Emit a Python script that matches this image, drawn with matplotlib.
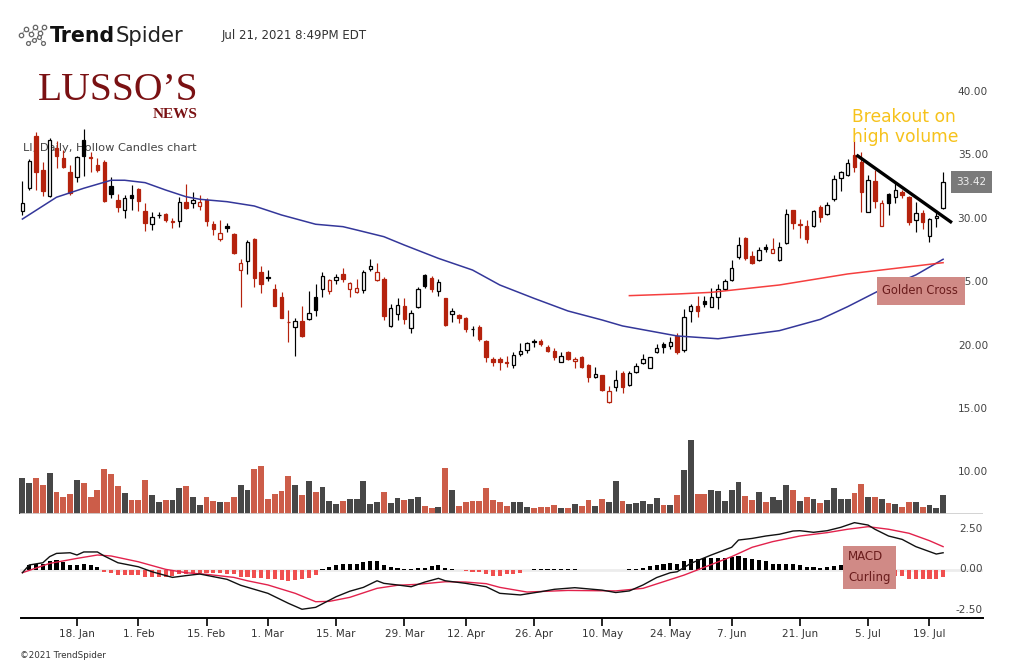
import numpy as np
import pandas as pd
import matplotlib
matplotlib.use("Agg")
import matplotlib.pyplot as plt
from matplotlib.patches import Rectangle
from matplotlib.lines import Line2D
from matplotlib.transforms import blended_transform_factory, ScaledTranslation

# ---------------- data ----------------
holidays = ["2021-01-18", "2021-02-15", "2021-04-02", "2021-05-31", "2021-07-05"]
dates = pd.bdate_range("2021-01-06", "2021-07-21")
dates = dates[~dates.isin(pd.to_datetime(holidays))]

opens = [31.14, 32.90, 37.05, 34.35, 32.32, 36.06, 35.27, 34.21, 33.82, 36.71,
         35.40, 34.74, 35.00, 33.09, 31.98, 31.19, 32.38, 32.85, 31.12, 30.09,
         30.78, 30.85, 30.26, 30.33, 31.80, 31.72, 31.54, 31.98, 30.07, 28.89,
         29.93, 29.28, 26.46, 27.17, 28.91, 26.28, 25.90, 24.96, 24.31, 22.38,
         22.00, 22.44, 22.57, 24.31, 24.94, 24.83, 25.67, 26.15, 24.94, 24.75,
         24.88, 26.54, 25.67, 25.75, 22.05, 22.97, 23.62, 21.86, 23.52, 26.07,
         25.81, 24.83, 24.23, 22.97, 22.91, 22.70, 21.83, 21.94, 20.86, 19.44,
         19.42, 19.20, 18.97, 19.81, 20.15, 20.84, 20.86, 20.36, 20.10, 19.23,
         20.02, 19.32, 19.58, 18.97, 18.05, 18.18, 16.08, 17.21, 18.31, 17.39,
         18.39, 19.10, 18.71, 19.97, 20.60, 20.49, 21.26, 20.15, 23.23, 23.62,
         24.02, 23.57, 24.31, 24.96, 25.67, 27.46, 28.96, 27.57, 27.25, 28.30,
         27.80, 27.25, 28.57, 31.19, 30.05, 29.93, 29.93, 31.46, 30.88, 32.04,
         33.74, 33.95, 35.53, 35.00, 31.01, 33.48, 29.96, 32.43, 32.25, 32.64,
         32.25, 30.41, 30.93, 29.14, 30.59, 31.33]
highs = [33.48, 35.20, 37.32, 35.00, 36.85, 36.66, 35.93, 34.74, 35.45, 37.56,
         35.80, 35.27, 35.10, 33.77, 32.43, 32.38, 33.17, 32.95, 31.72, 31.01,
         31.01, 30.93, 30.54, 32.25, 33.22, 32.59, 32.38, 32.12, 30.33, 30.41,
         30.15, 29.36, 27.33, 28.83, 28.96, 26.78, 26.46, 25.36, 24.70, 23.31,
         22.66, 23.62, 24.80, 25.34, 26.28, 25.75, 26.15, 26.60, 25.50, 25.75,
         26.46, 27.33, 26.99, 25.88, 23.78, 24.23, 24.23, 23.31, 25.10, 26.15,
         25.99, 25.75, 24.23, 23.44, 22.99, 22.78, 22.05, 22.12, 20.94, 19.58,
         19.58, 19.68, 20.02, 20.71, 20.80, 20.99, 20.99, 20.55, 20.29, 20.02,
         20.10, 19.63, 19.68, 19.05, 18.84, 18.18, 17.31, 18.58, 18.50, 18.50,
         19.10, 19.84, 19.60, 20.60, 20.80, 21.15, 21.47, 23.36, 23.78, 24.41,
         24.44, 25.02, 25.36, 25.73, 27.25, 29.04, 29.09, 27.96, 28.30, 28.51,
         28.96, 28.69, 31.27, 31.19, 30.46, 30.41, 31.19, 31.59, 31.85, 33.95,
         34.30, 35.22, 36.64, 35.79, 33.95, 34.35, 31.98, 32.51, 33.30, 32.77,
         32.30, 31.85, 31.19, 30.54, 31.19, 34.17]
lows = [30.80, 32.80, 32.77, 32.30, 32.25, 34.48, 34.48, 32.38, 33.38, 33.90,
        34.21, 34.21, 31.81, 32.12, 31.07, 30.59, 31.19, 31.12, 29.54, 29.60,
        30.54, 30.28, 29.75, 29.88, 31.25, 31.38, 31.19, 29.96, 29.22, 28.75,
        29.49, 27.72, 23.57, 26.12, 25.15, 24.63, 25.59, 23.62, 22.66, 20.81,
        19.71, 21.20, 22.52, 22.86, 24.36, 24.57, 25.36, 25.54, 24.36, 24.67,
        24.63, 26.41, 25.62, 22.52, 22.00, 22.52, 22.20, 21.52, 23.44, 25.02,
        24.75, 24.44, 22.08, 22.39, 22.31, 21.60, 21.26, 20.89, 19.23, 18.92,
        18.58, 18.84, 18.76, 19.68, 19.94, 20.36, 20.50, 20.02, 19.36, 19.18,
        19.36, 18.76, 18.71, 17.65, 17.97, 16.94, 16.00, 16.94, 16.79, 17.34,
        18.31, 19.02, 18.70, 19.89, 19.89, 20.21, 19.81, 19.97, 22.34, 22.78,
        23.57, 23.52, 23.39, 24.88, 25.62, 27.33, 27.25, 26.91, 27.20, 27.86,
        27.78, 27.20, 28.49, 29.70, 29.01, 28.57, 29.88, 30.28, 30.80, 31.93,
        32.69, 33.90, 34.21, 31.01, 31.01, 31.33, 29.93, 30.80, 31.77, 32.12,
        30.01, 29.49, 29.67, 28.69, 29.88, 31.25]
closes = [31.72, 35.06, 34.21, 32.72, 36.71, 35.48, 34.61, 32.56, 35.35, 35.48,
          35.27, 34.35, 31.90, 32.43, 31.45, 32.12, 32.17, 31.90, 30.15, 30.67,
          30.82, 30.41, 30.30, 31.80, 31.33, 31.98, 31.80, 30.36, 29.67, 29.36,
          29.75, 27.78, 26.99, 28.65, 25.81, 25.33, 25.83, 23.65, 22.70, 22.34,
          22.44, 21.28, 23.05, 23.31, 25.99, 25.67, 25.88, 25.75, 25.42, 25.02,
          26.28, 26.78, 26.33, 22.86, 23.44, 23.70, 22.57, 23.05, 24.94, 25.20,
          24.94, 25.50, 22.12, 23.23, 22.70, 21.78, 21.80, 21.02, 19.63, 19.23,
          19.20, 19.16, 19.79, 20.07, 20.68, 20.76, 20.60, 20.10, 19.58, 19.71,
          19.45, 19.42, 18.79, 18.00, 18.24, 17.00, 16.90, 17.79, 17.21, 18.31,
          18.89, 19.44, 19.58, 20.29, 20.41, 20.76, 19.97, 22.78, 23.62, 23.25,
          23.76, 24.31, 24.94, 25.59, 26.65, 28.43, 27.38, 26.99, 28.04, 28.12,
          28.08, 28.30, 30.88, 30.15, 30.10, 28.91, 31.12, 30.62, 31.59, 33.61,
          34.17, 34.88, 34.61, 32.59, 33.56, 31.90, 31.72, 31.77, 32.77, 32.38,
          30.23, 30.93, 30.23, 30.46, 30.75, 33.42]
volume = [8.57, 7.37, 8.57, 6.82, 9.76, 5.22, 4.02, 4.74, 8.01, 7.37,
          4.02, 5.70, 10.72, 9.52, 6.65, 4.98, 3.30, 3.30, 8.09, 4.50,
          2.82, 3.30, 3.30, 6.17, 6.65, 4.02, 2.11, 4.02, 3.06, 2.82,
          2.82, 4.02, 6.89, 5.70, 10.72, 11.44, 3.54, 4.74, 5.46, 9.04,
          6.89, 4.50, 7.85, 5.22, 6.41, 3.06, 2.35, 3.06, 3.54, 3.54,
          7.85, 2.35, 2.82, 5.22, 2.58, 3.78, 3.30, 3.54, 4.02, 1.87,
          1.39, 1.63, 10.96, 5.70, 1.87, 2.82, 3.06, 3.06, 6.17, 3.30,
          2.82, 1.79, 2.82, 2.82, 1.56, 1.39, 1.56, 1.56, 2.03, 1.32,
          1.32, 2.27, 1.79, 3.23, 1.79, 3.47, 2.75, 7.78, 2.99, 2.27,
          2.51, 2.99, 2.27, 3.71, 2.03, 2.03, 4.43, 10.41, 17.58, 4.67,
          4.67, 5.62, 5.38, 2.99, 5.62, 7.54, 4.19, 3.23, 5.14, 2.75,
          3.95, 3.23, 6.82, 5.62, 2.99, 3.95, 3.47, 2.51, 3.23, 6.10,
          3.47, 3.47, 4.90, 7.06, 3.95, 3.95, 3.47, 2.51, 2.27, 1.56,
          2.75, 2.75, 1.56, 2.03, 1.32, 4.43]
macd_hist = [0.00, 0.27, 0.37, 0.37, 0.52, 0.58, 0.48, 0.27, 0.27, 0.33,
             0.27, 0.17, -0.14, -0.21, -0.35, -0.35, -0.35, -0.35, -0.46, -0.46,
             -0.46, -0.46, -0.39, -0.29, -0.25, -0.21, -0.19, -0.19, -0.21, -0.21,
             -0.25, -0.29, -0.46, -0.46, -0.50, -0.50, -0.56, -0.56, -0.66, -0.70,
             -0.66, -0.62, -0.50, -0.35, 0.02, 0.17, 0.27, 0.37, 0.37, 0.37,
             0.46, 0.52, 0.52, 0.27, 0.17, 0.10, 0.03, 0.03, 0.10, 0.12,
             0.21, 0.27, 0.10, 0.06, 0.00, -0.08, -0.14, -0.14, -0.29, -0.39,
             -0.39, -0.29, -0.25, -0.21, -0.06, 0.05, 0.05, 0.05, 0.05, 0.05,
             0.05, 0.05, 0.00, 0.00, 0.00, -0.04, -0.06, -0.06, -0.04, 0.03,
             0.05, 0.08, 0.21, 0.27, 0.37, 0.41, 0.37, 0.52, 0.64, 0.68,
             0.72, 0.72, 0.72, 0.72, 0.75, 0.83, 0.72, 0.68, 0.62, 0.52,
             0.37, 0.33, 0.37, 0.33, 0.27, 0.17, 0.17, 0.10, 0.17, 0.21,
             0.25, 0.25, 0.30, 0.20, 0.05, -0.15, -0.30, -0.40, -0.39, -0.41,
             -0.56, -0.62, -0.62, -0.62, -0.62, -0.46]

# moving averages, sampled along the drawn lines (trading-day index, value)
sma50_idx = [0, 5, 9, 13, 15, 18, 21, 24, 26, 30, 34, 38, 43, 47, 49, 53, 56, 61,
             66, 70, 75, 80, 85, 88, 96, 102, 111, 117, 121, 126, 131, 135]
sma50_val = [30.48, 32.20, 32.91, 33.54, 33.54, 33.35, 32.77, 32.24, 32.04, 31.85,
             31.51, 30.80, 30.07, 29.88, 29.62, 29.09, 28.43, 27.38, 26.46, 25.28,
             24.23, 23.23, 22.52, 22.05, 21.26, 21.04, 21.68, 22.57, 23.57, 24.94,
             26.07, 27.31]
sma200_idx = [89, 96, 101, 111, 121, 131, 135]
sma200_val = [24.44, 24.57, 24.70, 25.28, 26.15, 26.78, 27.04]

macd_idx = [0, 1, 3, 4, 5, 7, 8, 9, 11, 12, 14, 17, 19, 22, 24, 26, 30, 32, 36, 39,
            41, 43, 46, 48, 50, 52, 53, 55, 57, 59, 61, 62, 65, 68, 70, 73, 76, 78,
            81, 85, 87, 89, 91, 93, 95, 96, 98, 101, 104, 105, 107, 109, 111, 113,
            114, 116, 118, 120, 122, 124, 125, 127, 129, 131, 134, 135]
macd_val = [-0.20, 0.28, 0.42, 0.80, 1.00, 1.04, 0.90, 1.09, 1.09, 0.84,
            0.42, 0.17, -0.14, -0.49, -0.38, -0.28, -0.61, -0.98, -1.48, -2.10,
            -2.47, -2.35, -1.69, -1.35, -1.11, -0.70, -0.86, -0.96, -1.07, -0.78,
            -0.55, -0.70, -0.86, -1.07, -1.48, -1.58, -1.38, -1.23, -1.13, -1.28,
            -1.43, -1.33, -0.96, -0.50, -0.20, -0.14, 0.38, 0.90, 1.38, 1.83,
            1.93, 2.08, 2.19, 2.39, 2.41, 2.31, 2.41, 2.62, 2.91, 2.76,
            2.50, 2.08, 1.87, 1.42, 0.96, 1.04]
signal_idx = [0, 4, 8, 11, 13, 17, 21, 24, 27, 31, 33, 36, 40, 43, 45, 48, 52, 55,
              58, 62, 65, 68, 70, 74, 80, 87, 91, 94, 97, 100, 104, 107, 110, 114,
              118, 121, 124, 127, 130, 133, 135]
signal_val = [-0.20, 0.38, 0.69, 0.90, 0.84, 0.48, 0.01, -0.20, -0.30, -0.49,
              -0.70, -0.96, -1.48, -2.00, -1.98, -1.73, -1.17, -0.98, -0.92, -0.76,
              -0.78, -0.88, -1.11, -1.40, -1.30, -1.33, -1.17, -0.76, -0.35, 0.14,
              0.80, 1.38, 1.73, 2.08, 2.29, 2.50, 2.66, 2.50, 2.25, 1.79, 1.42]

# drawn trendline (index, price)
trend_idx = [122.3, 136.3]
trend_val = [35.53, 30.19]

tick_dates = ["2021-01-18", "2021-02-01", "2021-02-15", "2021-03-01", "2021-03-15",
              "2021-03-29", "2021-04-12", "2021-04-26", "2021-05-10", "2021-05-24",
              "2021-06-07", "2021-06-21", "2021-07-05", "2021-07-19"]
tick_labels = ["18. Jan", "1. Feb", "15. Feb", "1. Mar", "15. Mar", "29. Mar",
               "12. Apr", "26. Apr", "10. May", "24. May", "7. Jun", "21. Jun",
               "5. Jul", "19. Jul"]
price_ticks = [15, 20, 25, 30, 35, 40]
volume_ticks = [10]
macd_ticks = [2.5, 0.0, -2.5]

# ---------------- styling ----------------
RED_C = "#b5220d"
VOL_DARK = "#474747"
VOL_RED = "#cc5d49"
HIST_RED = "#f04f4f"
BLUE = "#34379a"
SMA_RED = "#f42a2a"
SIG_RED = "#e2224c"
LOGO_RED = "#7a1113"

plt.rcParams["font.family"] = ["DejaVu Sans"]
W, H = 1013, 665
fig = plt.figure(figsize=(W / 100, H / 100), dpi=100)
fig.patch.set_facecolor("white")

def fx(px):
    return px / W

def fy(py):
    return 1 - py / H

X_LEFT, X_RIGHT = 15, 983
PX_DAY, X0 = 6.82, 22.4
xlim = ((X_LEFT - X0) / PX_DAY, (X_RIGHT - X0) / PX_DAY)

def make_axes(top, bottom, ylim):
    ax = fig.add_axes([fx(X_LEFT), fy(bottom), (X_RIGHT - X_LEFT) / W, (bottom - top) / H])
    ax.set_xlim(xlim)
    ax.set_ylim(ylim)
    ax.set_facecolor("none")
    for s in ax.spines.values():
        s.set_visible(False)
    ax.set_xticks([])
    ax.set_yticks([])
    return ax

ax_p = make_axes(70, 425, (40.5 - 333 / 12.68, 40.5 + 22 / 12.68))
ax_v = make_axes(435, 514, (-0.5 / 4.18, 78.5 / 4.18))
ax_m = make_axes(516, 618, (-48.5 / 16.1, 53.5 / 16.1))

x = np.arange(len(dates))
O = np.array(opens); Hh = np.array(highs); L = np.array(lows); C = np.array(closes)
prevC = np.r_[-np.inf, C[:-1]]
edge = np.where(C >= prevC, "#000000", RED_C)
face = np.where(C >= O, "#ffffff", edge)
last_close_label = f"{C[-1]:.2f}"

# ---- price panel ----
ax_p.vlines(x, L, Hh, colors=edge, linewidth=0.85, zorder=2)
ax_p.bar(x, np.abs(C - O), bottom=np.minimum(O, C), width=0.5, color=face,
         edgecolor=edge, linewidth=0.9, zorder=2.5)
ax_p.plot(sma50_idx, sma50_val, color=BLUE, lw=1.1, zorder=3)
ax_p.plot(sma200_idx, sma200_val, color=SMA_RED, lw=1.1, alpha=0.9, zorder=3)
ax_p.plot(trend_idx, trend_val, color="black", lw=2.4, solid_capstyle="butt", zorder=4)

# price labels sit slightly above their levels, as in TrendSpider
tp = blended_transform_factory(fig.transFigure, ax_p.transData) + \
    ScaledTranslation(0, 6.3 / 100, fig.dpi_scale_trans)
for v in price_ticks:
    ax_p.text(fx(988), v, f"{v:.2f}", transform=tp, ha="right", va="center",
              fontsize=7.6, color="#444444")

tl = blended_transform_factory(fig.transFigure, ax_p.transData)
ax_p.text(fx(971.5), C[-1], last_close_label, transform=tl,
          ha="center", va="center", fontsize=7.6, color="#eeeeee", zorder=6,
          bbox=dict(boxstyle="square,pad=0.55", facecolor="#7a7a7a", edgecolor="none"))

ax_p.text(fx(23), fy(148), "LI, Daily, Hollow Candles chart", transform=fig.transFigure,
          fontsize=8.2, color="#444444", va="center", ha="left", zorder=1)

# annotations on price panel
ax_p.text(fx(852), fy(122.5), "Breakout on", transform=fig.transFigure, fontsize=12.3,
          color="#f6c21b", ha="left", va="baseline", zorder=6)
ax_p.text(fx(852), fy(142.5), "high volume", transform=fig.transFigure, fontsize=12.3,
          color="#f6c21b", ha="left", va="baseline", zorder=6)
ax_p.add_patch(Rectangle((fx(877), fy(305)), fx(88), 28 / H, transform=fig.transFigure,
                         facecolor="#d08a86", edgecolor="none", zorder=5))
ax_p.text(fx(882), fy(291), "Golden Cross", transform=fig.transFigure, fontsize=8.3,
          color="#6a1c1c", ha="left", va="center", zorder=6)

# ---- volume panel ----
vcol = np.where(C >= O, VOL_DARK, VOL_RED)
ax_v.bar(x, volume, width=0.86, color=vcol, zorder=2)
ax_v.axhline(0, xmin=(21 - X_LEFT) / (X_RIGHT - X_LEFT), color="#cfcfcf", lw=2, zorder=3)
tv = blended_transform_factory(fig.transFigure, ax_v.transData)
for v in volume_ticks:
    ax_v.text(fx(988), v, f"{v:.2f}", transform=tv, ha="right", va="center",
              fontsize=7.6, color="#444444")

# ---- MACD panel ----
hist = np.array(macd_hist)
ax_m.axhline(0, xmin=(21 - X_LEFT) / (X_RIGHT - X_LEFT), color="#ececec", lw=2, zorder=1)
ax_m.bar(x, hist, width=0.6, color=np.where(hist >= 0, "#000000", HIST_RED), zorder=2)
ax_m.plot(signal_idx, signal_val, color=SIG_RED, lw=1.0, zorder=3)
ax_m.plot(macd_idx, macd_val, color="#111111", lw=1.0, zorder=3)
tm = blended_transform_factory(fig.transFigure, ax_m.transData)
for v in macd_ticks:
    ax_m.text(fx(983), v, f"{v:.2f}", transform=tm, ha="right", va="center",
              fontsize=7.6, color="#444444")
ax_m.add_patch(Rectangle((fx(843), fy(589)), fx(53), 43 / H, transform=fig.transFigure,
                         facecolor="#d08a86", edgecolor="none", zorder=5))
ax_m.text(fx(848), fy(557), "MACD", transform=fig.transFigure, fontsize=8.5,
          color="#6a1c1c", ha="left", va="center", zorder=6)
ax_m.text(fx(848), fy(578), "Curling", transform=fig.transFigure, fontsize=8.5,
          color="#6a1c1c", ha="left", va="center", zorder=6)

# x axis
tick_pos = dates.searchsorted(pd.to_datetime(tick_dates))
ax_m.spines["bottom"].set_visible(True)
ax_m.spines["bottom"].set_linewidth(1.4)
ax_m.spines["bottom"].set_bounds((21 - X0) / PX_DAY, xlim[1])
ax_m.set_xticks(tick_pos)
ax_m.set_xticklabels(tick_labels, fontsize=7.5, color="#333333")
ax_m.tick_params(axis="x", length=6, width=1.2, pad=1.8, color="black")

# ---------------- header ----------------
fig.add_artist(Line2D([fx(21), fx(26), fx(31), fx(35), fx(40), fx(44)],
                      [fy(35), fy(29), fy(34), fy(27), fy(33), fy(27)],
                      transform=fig.transFigure, color="#999999", lw=0.6,
                      marker="o", ms=3.2, mfc="white", mec="#666666", mew=0.9))
fig.add_artist(Line2D([fx(28), fx(34), fx(39), fx(43)],
                      [fy(43), fy(40), fy(37), fy(43)],
                      transform=fig.transFigure, color="#999999", lw=0.6,
                      marker="o", ms=2.8, mfc="white", mec="#666666", mew=0.9))
t1 = fig.text(fx(50), fy(42.5), "Trend", fontsize=14.8, fontweight="bold",
              color="#111111", ha="left", va="baseline")
renderer = fig.canvas.get_renderer()
bb = t1.get_window_extent(renderer)
fig.text(bb.x1 / W, fy(42.5), "Spider", fontsize=15.2, color="#222222",
         ha="left", va="baseline")
fig.text(fx(222), fy(35), "Jul 21, 2021 8:49PM EDT", fontsize=8.5, color="#333333",
         ha="left", va="center")
fig.text(fx(118), fy(100.5), "LUSSO\u2019S", family=["Liberation Serif", "DejaVu Serif"],
         fontsize=28.5, color=LOGO_RED, ha="center", va="baseline")
fig.text(fx(198), fy(118), "NEWS", family=["Liberation Serif", "DejaVu Serif"],
         fontsize=11, fontweight="bold", color=LOGO_RED, ha="right", va="baseline")
fig.text(fx(20), fy(656), "\u00a92021 TrendSpider", fontsize=6.3, color="#333333",
         ha="left", va="center")

fig.savefig("out.png", dpi=100, facecolor="white")
